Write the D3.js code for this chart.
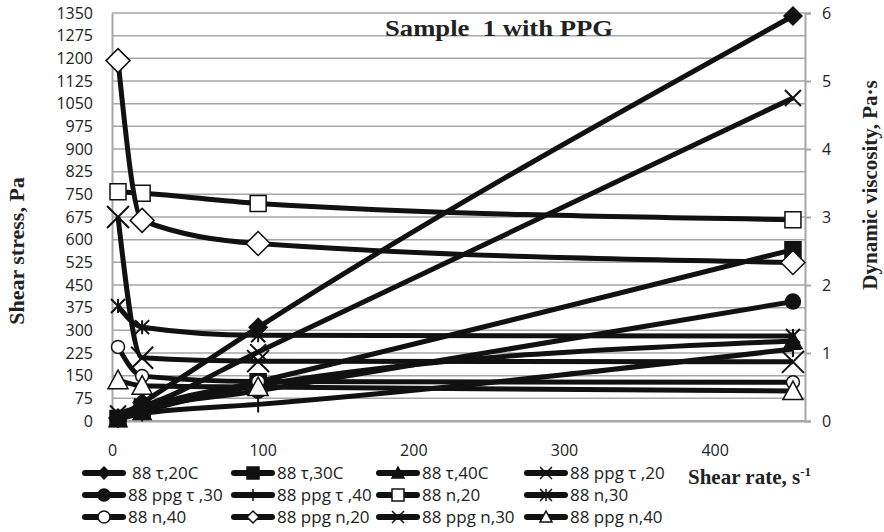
<!DOCTYPE html>
<html>
<head>
<title>Sample 1 with PPG</title>
<style>
  body { margin: 0; background: #fff; }
  svg { display: block; }
</style>
</head>
<body>
<div id="chart"></div>
<script src="https://cdn.jsdelivr.net/npm/d3@7"></script>
<script>
// shear rate, 1/s
var shearRate = [4, 20, 97, 452];

// shear stress, Pa (left axis)
var tau20C = [10, 60, 310, 1340];
var tau30C = [8, 40, 130, 567];
var tau40C = [6, 30, 118, 265];
var ppgTau20 = [25, 48, 228, 1069];
var ppgTau30 = [7, 35, 100, 395];
var ppgTau40 = [5, 25, 55, 238];

// dynamic viscosity, Pa·s (right axis)
var n20 = [3.37, 3.35, 3.2, 2.96];
var n30 = [1.69, 1.38, 1.26, 1.25];
var n40 = [1.09, 0.66, 0.58, 0.57];
var ppgN20 = [5.3, 2.95, 2.61, 2.33];
var ppgN30 = [3.0, 0.93, 0.88, 0.87];
var ppgN40 = [0.6, 0.52, 0.5, 0.44];

var leftTicks = [0, 75, 150, 225, 300, 375, 450, 525, 600, 675, 750, 825, 900, 975, 1050, 1125, 1200, 1275, 1350];
var rightTicks = [0, 1, 2, 3, 4, 5, 6];
var xTicks = [0, 100, 200, 300, 400];

var series = [
  {name: "88 τ,20C", vals: tau20C, axis: "L", mk: "diamond", fill: true},
  {name: "88 τ,30C", vals: tau30C, axis: "L", mk: "square", fill: true},
  {name: "88 τ,40C", vals: tau40C, axis: "L", mk: "triangle", fill: true},
  {name: "88 ppg τ ,20", vals: ppgTau20, axis: "L", mk: "x", fill: false},
  {name: "88 ppg τ ,30", vals: ppgTau30, axis: "L", mk: "circle", fill: true},
  {name: "88 ppg τ ,40", vals: ppgTau40, axis: "L", mk: "plus", fill: false},
  {name: "88 n,20", vals: n20, axis: "R", mk: "square", fill: false},
  {name: "88 n,30", vals: n30, axis: "R", mk: "star", fill: false},
  {name: "88 n,40", vals: n40, axis: "R", mk: "circle", fill: false},
  {name: "88 ppg n,20", vals: ppgN20, axis: "R", mk: "diamond", fill: false},
  {name: "88 ppg n,30", vals: ppgN30, axis: "R", mk: "x", fill: false},
  {name: "88 ppg n,40", vals: ppgN40, axis: "R", mk: "triangle", fill: false}
];

var W = 884, H = 532;
var L = 112, R = 805, T = 13, B = 421;

var svg = d3.select("#chart").append("svg")
  .attr("width", W).attr("height", H);

var x = d3.scaleLinear().domain([0, 460]).range([L, R]);
var yL = d3.scaleLinear().domain([0, 1350]).range([B, T]);
var yR = d3.scaleLinear().domain([0, 6]).range([B, T]);

var grid = "#a6a6a6";
var fmt = d3.format("d");

// gridlines
svg.append("g").selectAll("line")
  .data(leftTicks).enter().append("line")
  .attr("x1", L).attr("x2", R)
  .attr("y1", function(d) { return yL(d); })
  .attr("y2", function(d) { return yL(d); })
  .attr("stroke", grid).attr("stroke-width", 1.5);

// axes
var axL = svg.append("g").attr("transform", "translate(" + L + ",0)")
  .call(d3.axisLeft(yL).tickValues(leftTicks).tickFormat(fmt).tickSize(0).tickPadding(19));
var axR = svg.append("g").attr("transform", "translate(" + R + ",0)")
  .call(d3.axisRight(yR).tickValues(rightTicks).tickFormat(fmt).tickSize(6).tickPadding(11));
var axB = svg.append("g").attr("transform", "translate(0," + B + ")")
  .call(d3.axisBottom(x).tickValues(xTicks).tickFormat(fmt).tickSize(0).tickPadding(24));

[axL, axR, axB].forEach(function(g) {
  g.select(".domain").attr("stroke", grid).attr("stroke-width", 2);
  g.selectAll(".tick line").attr("stroke", grid).attr("stroke-width", 2);
  g.selectAll("text").attr("font-family", "Open Sans, sans-serif")
    .attr("font-size", 16).attr("fill", "#222");
});
svg.append("line").attr("x1", L).attr("x2", R).attr("y1", B).attr("y2", B)
  .attr("stroke", grid).attr("stroke-width", 2);

function markerPath(type, r) {
  switch (type) {
    case "diamond": return "M0," + (-r) + "L" + r + ",0L0," + r + "L" + (-r) + ",0Z";
    case "square": return "M" + (-r) + "," + (-r) + "H" + r + "V" + r + "H" + (-r) + "Z";
    case "triangle": return "M0," + (-r) + "L" + r + "," + (r * 0.85) + "L" + (-r) + "," + (r * 0.85) + "Z";
    case "x": return "M" + (-r) + "," + (-r) + "L" + r + "," + r + "M" + r + "," + (-r) + "L" + (-r) + "," + r;
    case "plus": return "M0," + (-r) + "V" + r + "M" + (-r) + ",0H" + r;
    case "star": return "M" + (-r) + "," + (-r) + "L" + r + "," + r + "M" + r + "," + (-r) + "L" + (-r) + "," + r + "M0," + (-r) + "V" + r;
    case "circle": return "M" + r + ",0A" + r + "," + r + " 0 1,1 " + (-r) + ",0A" + r + "," + r + " 0 1,1 " + r + ",0Z";
  }
}

var sizes = {
  Ldiamond: 9, Lsquare: 8, Ltriangle: 9, Lx: 8, Lcircle: 7.5, Lplus: 8,
  Rsquare: 8, Rstar: 7, Rcircle: 6.5, Rdiamond: 12, Rx: 11, Rtriangle: 10
};

var ink = "#111";

var plot = svg.append("g");
series.forEach(function(s) {
  var y = s.axis == "L" ? yL : yR;
  var line = d3.line()
    .x(function(d, i) { return x(shearRate[i]); })
    .y(function(d) { return y(d); })
    .curve(d3.curveMonotoneX);
  plot.append("path")
    .attr("d", line(s.vals))
    .attr("fill", "none").attr("stroke", ink)
    .attr("stroke-width", 5).attr("stroke-linejoin", "round");

  var r = sizes[s.axis + s.mk];
  var open = (s.mk == "x" || s.mk == "plus" || s.mk == "star");
  plot.append("g").selectAll("path")
    .data(s.vals).enter().append("path")
    .attr("transform", function(d, i) { return "translate(" + x(shearRate[i]) + "," + y(d) + ")"; })
    .attr("d", markerPath(s.mk, r))
    .attr("fill", open ? "none" : (s.fill ? ink : "#fff"))
    .attr("stroke", ink)
    .attr("stroke-width", open ? 2 : 1.5);
});

// legend
var colX = [83, 232, 377, 525];
var rowY = [473, 495, 517];
var leg = svg.append("g");
series.forEach(function(s, i) {
  var cx = colX[i % 4], cy = rowY[Math.floor(i / 4)];
  var g = leg.append("g").attr("transform", "translate(" + cx + "," + cy + ")");
  g.append("line").attr("x1", 2).attr("x2", 40).attr("y1", 0).attr("y2", 0)
    .attr("stroke", ink).attr("stroke-width", 6).attr("stroke-linecap", "round");
  var open = (s.mk == "x" || s.mk == "plus" || s.mk == "star");
  g.append("path").attr("transform", "translate(21,0)")
    .attr("d", markerPath(s.mk, 6))
    .attr("fill", open ? "none" : (s.fill ? ink : "#fff"))
    .attr("stroke", ink).attr("stroke-width", 1.5);
  g.append("text").attr("x", i == 0 ? 49 : 45).attr("y", 6)
    .attr("font-family", "Open Sans, sans-serif").attr("font-size", 17)
    .attr("fill", "#222").text(s.name);
});

// titles
var serif = "Liberation Serif, Times New Roman, serif";
svg.append("text").attr("x", 385).attr("y", 36)
  .attr("font-family", serif).attr("font-weight", "bold").attr("font-size", 24)
  .attr("textLength", 228).attr("lengthAdjust", "spacingAndGlyphs")
  .attr("fill", "#222").attr("xml:space", "preserve").text("Sample  1 with PPG");

svg.append("text").attr("transform", "translate(24,251) rotate(-90)")
  .attr("text-anchor", "middle")
  .attr("font-family", serif).attr("font-weight", "bold").attr("font-size", 22)
  .attr("fill", "#222").text("Shear stress, Pa");

svg.append("text").attr("transform", "translate(877,185) rotate(-90)")
  .attr("text-anchor", "middle")
  .attr("font-family", serif).attr("font-weight", "bold").attr("font-size", 21)
  .attr("fill", "#222").text("Dynamic viscosity, Pa·s");

var xt = svg.append("text").attr("x", 688).attr("y", 484)
  .attr("font-family", serif).attr("font-weight", "bold").attr("font-size", 21)
  .attr("fill", "#222");
xt.append("tspan").text("Shear rate, s");
xt.append("tspan").attr("dy", -8).attr("font-size", 13).text("-1");
</script>
</body>
</html>
